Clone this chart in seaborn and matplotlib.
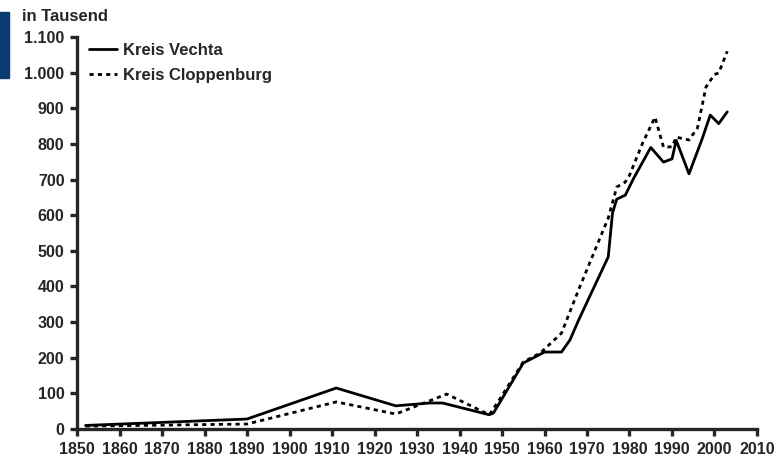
import pandas as pd
import seaborn as sns
import matplotlib.pyplot as plt
from matplotlib.ticker import FuncFormatter
from matplotlib.patches import Rectangle

# data (in thousand)
vechta_years = [1852, 1890, 1911, 1925, 1933, 1936, 1947, 1948, 1950, 1955, 1960, 1964,
                1966, 1968, 1975, 1976, 1977, 1979, 1981, 1985, 1988, 1990, 1991, 1994,
                1997, 1999, 2001, 2003]
vechta_values = [10, 28, 115, 65, 73, 73, 40, 45, 85, 185, 216, 216,
                 250, 305, 483, 606, 645, 656, 704, 790, 749, 758, 810, 716,
                 811, 881, 857, 890]

clop_years = [1852, 1890, 1911, 1925, 1937, 1947, 1949, 1955, 1959, 1964, 1968, 1975,
              1977, 1979, 1980, 1983, 1986, 1988, 1990, 1991, 1994, 1996, 1998, 2000,
              2001, 2003]
clop_values = [8, 14, 76, 42, 98, 40, 75, 188, 213, 269, 390, 592,
               679, 693, 712, 800, 875, 791, 792, 819, 811, 845, 960, 995,
               999, 1060]

x_ticks = list(range(1850, 2011, 10))
y_ticks = list(range(0, 1101, 100))

df = pd.concat([
    pd.DataFrame({"Jahr": vechta_years, "Wert": vechta_values, "Kreis": "Kreis Vechta"}),
    pd.DataFrame({"Jahr": clop_years, "Wert": clop_values, "Kreis": "Kreis Cloppenburg"}),
])

sns.set_style("ticks")
plt.rcParams['font.family'] = ['Liberation Sans', 'DejaVu Sans']
plt.rcParams['font.weight'] = 'bold'

fig = plt.figure(figsize=(7.78, 4.61), dpi=100)
ax = fig.add_axes([0.099, 0.0694, 0.874, 0.8503])

sns.lineplot(data=df, x="Jahr", y="Wert", style="Kreis",
             dashes={"Kreis Vechta": "", "Kreis Cloppenburg": (1.5, 1.5)},
             color="black", linewidth=2.0, ax=ax)

ax.set_xlim(1850, 2010)
ax.set_ylim(0, 1100)
ax.set_xticks(x_ticks)
ax.set_yticks(y_ticks)
ax.yaxis.set_major_formatter(FuncFormatter(lambda v, p: f"{int(v):,}".replace(",", ".")))
ax.set_xlabel("")
ax.set_ylabel("")
sns.despine(ax=ax)
for s in ["left", "bottom"]:
    ax.spines[s].set_linewidth(2.4)
ax.tick_params(width=2.4, length=5, labelsize=11.5, pad=4)
for lab in ax.get_xticklabels() + ax.get_yticklabels():
    lab.set_fontweight("bold")

leg = ax.legend(loc="upper left", frameon=False, fontsize=12, handlelength=1.7,
                handletextpad=0.35, bbox_to_anchor=(0.0, 1.015), borderaxespad=0.3,
                labelspacing=0.6)
for t in leg.get_texts():
    t.set_fontweight("bold")

fig.text(0.028, 0.965, "in Tausend", fontsize=12, fontweight="bold", va="center")
fig.patches.append(Rectangle((0, 0.83), 0.011, 0.145, transform=fig.transFigure,
                             color="#0b3b70", figure=fig))

fig.savefig("out.png", dpi=100)
